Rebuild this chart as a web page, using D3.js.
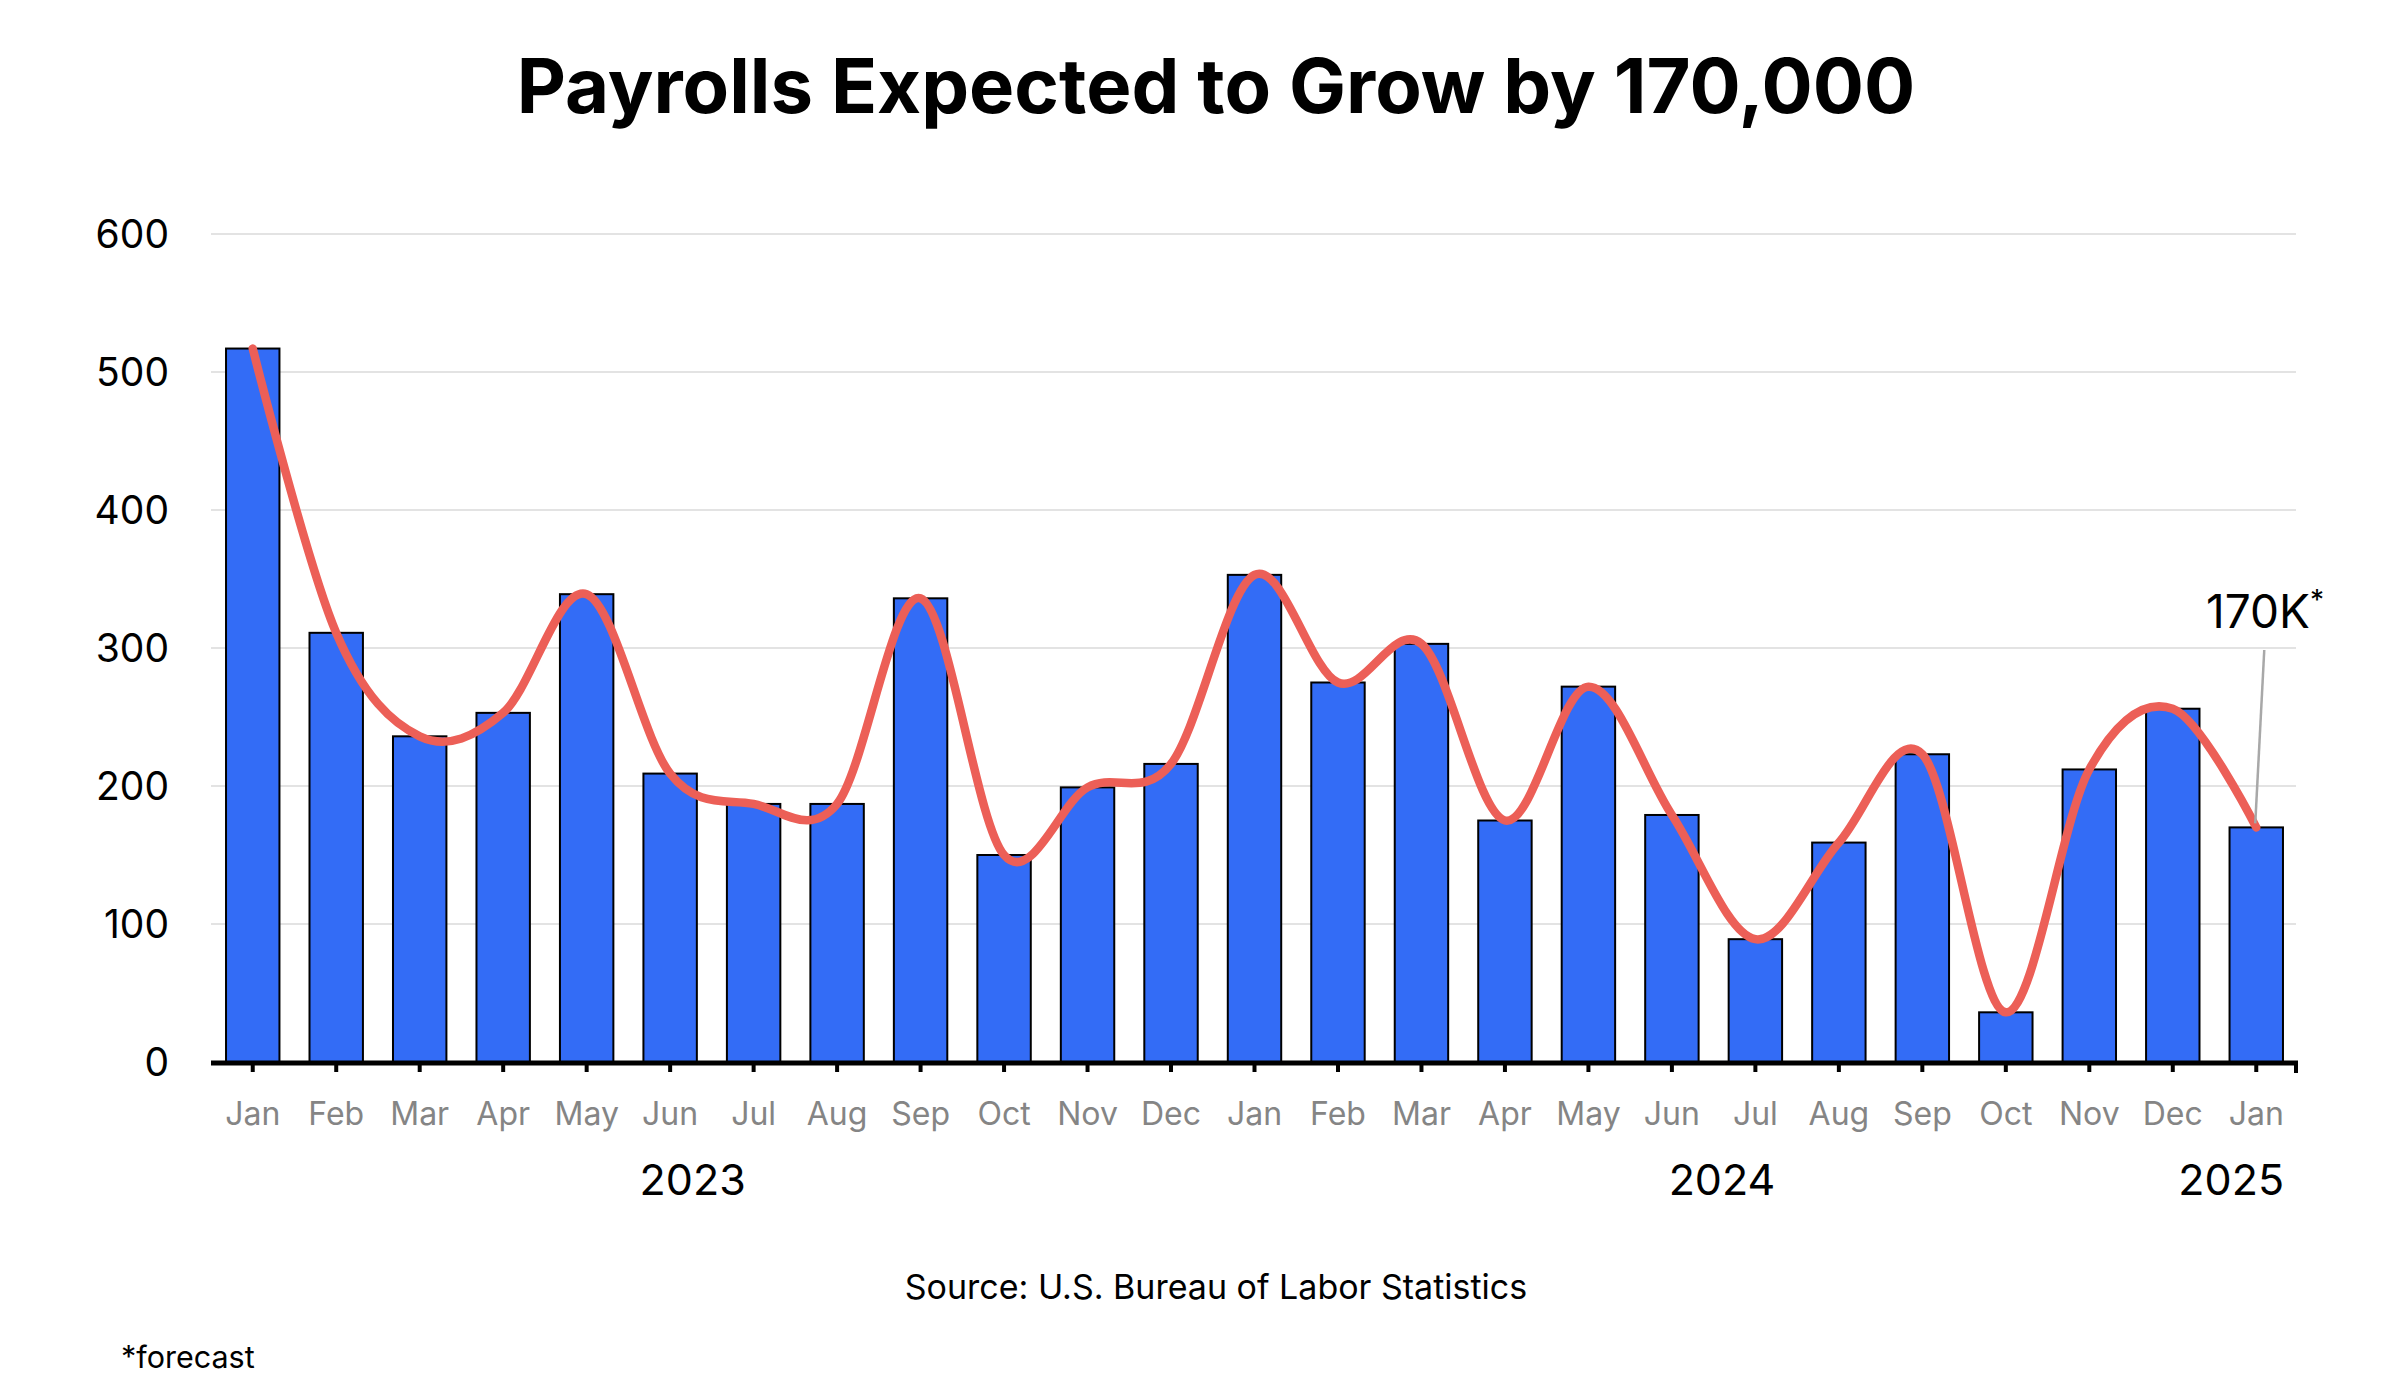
<!DOCTYPE html>
<html>
<head>
<meta charset="utf-8">
<script src="https://cdn.jsdelivr.net/npm/d3@7"></script>
<style>
  html, body { margin: 0; padding: 0; background: #fff; }
  svg { display: block; }
</style>
</head>
<body>
<svg id="chart" width="2406" height="1398"></svg>
<script>
// ---- Data ----
const months = ["Jan","Feb","Mar","Apr","May","Jun","Jul","Aug","Sep","Oct","Nov","Dec",
                "Jan","Feb","Mar","Apr","May","Jun","Jul","Aug","Sep","Oct","Nov","Dec","Jan"];
const payrolls = [517,311,236,253,339,209,187,187,336,150,199,216,
                  353,275,303,175,272,179,89,159,223,36,212,256,170];
const yTicks = [0,100,200,300,400,500,600];
const years = ["2023","2024","2025"];
const titleText = "Payrolls Expected to Grow by 170,000";
const sourceText = "Source: U.S. Bureau of Labor Statistics";
const footnoteText = "*forecast";
const annotationText = "170K";

// ---- Layout ----
const W = 2406, H = 1398;
const plot = { left: 211, right: 2298, top: 234, bottom: 1062 };
const FONT = "Inter, Roboto, 'Liberation Sans', Arial, sans-serif";
// year label centres, in category-index units (layout only)
const yearCentres = [5.27, 17.6, 23.7];

const svg = d3.select("#chart");
const idx = d3.range(months.length);

const x = d3.scaleBand().domain(idx).range([plot.left, plot.right])
  .paddingInner(0.36).paddingOuter(0.18);
const y = d3.scaleLinear().domain([0, 600]).range([plot.bottom, plot.top]);
const cx = i => plot.left + (i + 0.5) * x.step();

// Title
svg.append("text")
  .attr("x", 1216).attr("y", 113)
  .attr("text-anchor", "middle")
  .attr("font-family", FONT).attr("font-weight", 700).attr("font-size", 76)
  .attr("fill", "#000")
  .text(titleText);

// Gridlines
svg.append("g").selectAll("line").data(yTicks.filter(d => d > 0)).join("line")
  .attr("x1", plot.left).attr("x2", plot.right - 2)
  .attr("y1", d => y(d)).attr("y2", d => y(d))
  .attr("stroke", "#e3e3e3").attr("stroke-width", 2);

// Y axis labels
const yAxis = d3.axisLeft(y).tickValues(yTicks).tickSize(0).tickPadding(0);
const yg = svg.append("g").attr("transform", `translate(${plot.left - 42},0)`).call(yAxis);
yg.select(".domain").remove();
yg.selectAll("text")
  .attr("font-family", FONT).attr("font-size", 39).attr("fill", "#000").attr("dy", "0.35em");

// Bars
svg.append("g").selectAll("rect").data(idx).join("rect")
  .attr("x", i => x(i)).attr("width", x.bandwidth())
  .attr("y", i => y(payrolls[i])).attr("height", i => y(0) - y(payrolls[i]))
  .attr("fill", "#336CF6").attr("stroke", "#000").attr("stroke-width", 2);

// Smoothed line (Excel-style smoothing = uniform Catmull-Rom)
const line = d3.line()
  .x(i => x(i) + x.bandwidth() / 2)
  .y(i => y(payrolls[i]))
  .curve(d3.curveCatmullRom.alpha(0));
svg.append("path").datum(idx)
  .attr("d", line)
  .attr("fill", "none").attr("stroke", "#EC5F57").attr("stroke-width", 8.5)
  .attr("stroke-linecap", "round").attr("stroke-linejoin", "round");

// X axis
const xAxis = d3.axisBottom(x).tickFormat(i => months[i]).tickSize(10).tickPadding(30);
const xg = svg.append("g").attr("transform", `translate(0,${plot.bottom})`).call(xAxis);
xg.select(".domain").remove();
xg.selectAll(".tick line").attr("stroke", "#000").attr("stroke-width", 4);
xg.selectAll("text")
  .attr("font-family", FONT).attr("font-size", 32).attr("fill", "#858585");
// axis line
svg.append("line")
  .attr("x1", plot.left).attr("x2", plot.right)
  .attr("y1", plot.bottom + 1).attr("y2", plot.bottom + 1)
  .attr("stroke", "#000").attr("stroke-width", 5);
svg.append("line")
  .attr("x1", plot.right - 2).attr("x2", plot.right - 2)
  .attr("y1", plot.bottom).attr("y2", plot.bottom + 11)
  .attr("stroke", "#000").attr("stroke-width", 4);

// Year labels
svg.append("g").selectAll("text").data(years).join("text")
  .attr("x", (d, k) => cx(yearCentres[k]))
  .attr("text-anchor", "middle")
  .attr("y", 1195)
  .attr("font-family", FONT).attr("font-size", 43).attr("fill", "#000")
  .text(d => d);

// Annotation
const lastI = idx[idx.length - 1];
const lx = x(lastI) + x.bandwidth() / 2;
svg.append("line")
  .attr("x1", lx + 8).attr("y1", 650)
  .attr("x2", lx - 1).attr("y2", y(payrolls[lastI]) - 4)
  .attr("stroke", "#a8a8a8").attr("stroke-width", 2.5);
const ann = svg.append("text")
  .attr("x", 2206).attr("y", 628)
  .attr("font-family", FONT).attr("font-size", 46).attr("fill", "#000");
ann.append("tspan").text(annotationText);
ann.append("tspan").attr("font-size", 28).attr("dy", -18).text("*");

// Source
svg.append("text")
  .attr("x", 1216).attr("y", 1299)
  .attr("text-anchor", "middle")
  .attr("font-family", FONT).attr("font-size", 34).attr("fill", "#000")
  .text(sourceText);

// Footnote
svg.append("text")
  .attr("x", 121).attr("y", 1368)
  .attr("font-family", FONT).attr("font-size", 30.5).attr("fill", "#000")
  .text(footnoteText);
</script>
</body>
</html>
